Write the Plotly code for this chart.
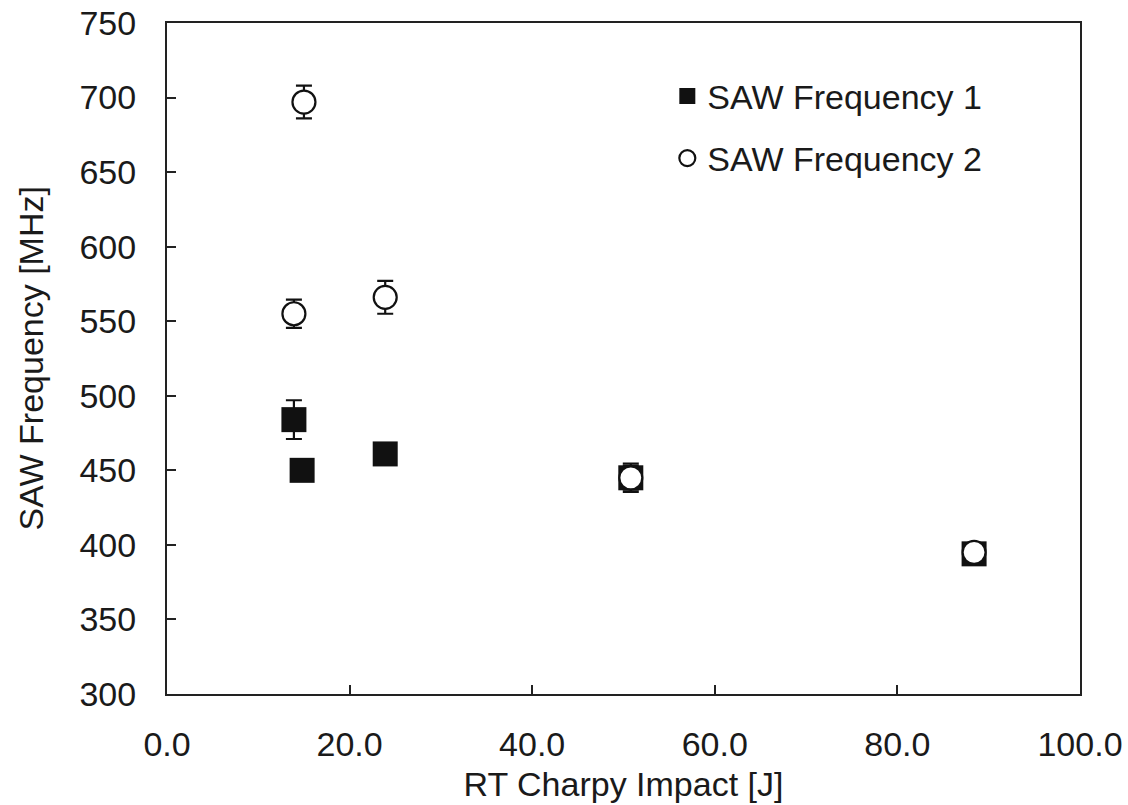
import plotly.graph_objects as go

# Data
charpy_1 = [13.9, 14.8, 23.9, 50.8, 88.4]
saw_freq_1 = [484, 450, 461, 445, 394]
saw_err_1 = [13, 5, 5, 9.5, 4]

charpy_2 = [13.9, 15.0, 23.9, 50.8, 88.4]
saw_freq_2 = [555, 697, 566, 445, 395]
saw_err_2 = [9.5, 11, 11, 8, 4]

x_ticks = [0, 20, 40, 60, 80, 100]
x_tick_labels = ["0.0", "20.0", "40.0", "60.0", "80.0", "100.0"]
y_ticks = [300, 350, 400, 450, 500, 550, 600, 650, 700, 750]

FONT = "Arial, Liberation Sans, sans-serif"
TXT = "#1a1a1a"
FS = 34

fig = go.Figure()
fig.add_trace(go.Scatter(
    x=charpy_1, y=saw_freq_1, mode="markers", name="SAW Frequency 1",
    legendgroup="g1",
    marker=dict(symbol="square", size=25, color="#111111",
                line=dict(color="#111111", width=0)),
    error_y=dict(type="data", array=saw_err_1, visible=True,
                 color="#111111", thickness=2.2, width=8),
))
fig.add_trace(go.Scatter(
    x=charpy_2, y=saw_freq_2, mode="markers", name="SAW Frequency 2",
    legendgroup="g2",
    marker=dict(symbol="circle", size=23, color="white",
                line=dict(color="#111111", width=2.2)),
    error_y=dict(type="data", array=saw_err_2, visible=True,
                 color="#111111", thickness=2.2, width=8),
))

axis_common = dict(
    showline=True, linecolor="#222222", linewidth=2, mirror=True,
    ticks="inside", ticklen=9, tickwidth=2, tickcolor="#222222",
    showgrid=False, zeroline=False, automargin=False,
    tickfont=dict(family=FONT, size=FS, color=TXT),
)

fig.update_layout(
    width=1128, height=805,
    margin=dict(l=167, r=48, t=23, b=111),
    paper_bgcolor="white", plot_bgcolor="white",
    font=dict(family=FONT, size=FS, color=TXT),
    showlegend=True,
    legend=dict(x=0.548, y=0.934, xanchor="left", yanchor="top",
                bgcolor="rgba(0,0,0,0)", traceorder="grouped",
                tracegroupgap=15, font=dict(family=FONT, size=FS, color=TXT),
                itemsizing="trace"),
    xaxis=dict(range=[0, 100], tickvals=x_ticks, ticktext=x_tick_labels,
               title=dict(text="RT Charpy Impact [J]", standoff=10,
                          font=dict(family=FONT, size=FS, color=TXT)),
               ticklabelstandoff=19, **axis_common),
    yaxis=dict(range=[300, 750], tickvals=y_ticks,
               ticklabelstandoff=22, **axis_common),
    annotations=[dict(
        text="SAW Frequency [MHz]", textangle=-90, showarrow=False,
        xref="paper", yref="paper", x=-0.150, y=0.5,
        xanchor="center", yanchor="middle",
        font=dict(family=FONT, size=FS, color=TXT),
    )],
)

fig.write_html("out.html")
